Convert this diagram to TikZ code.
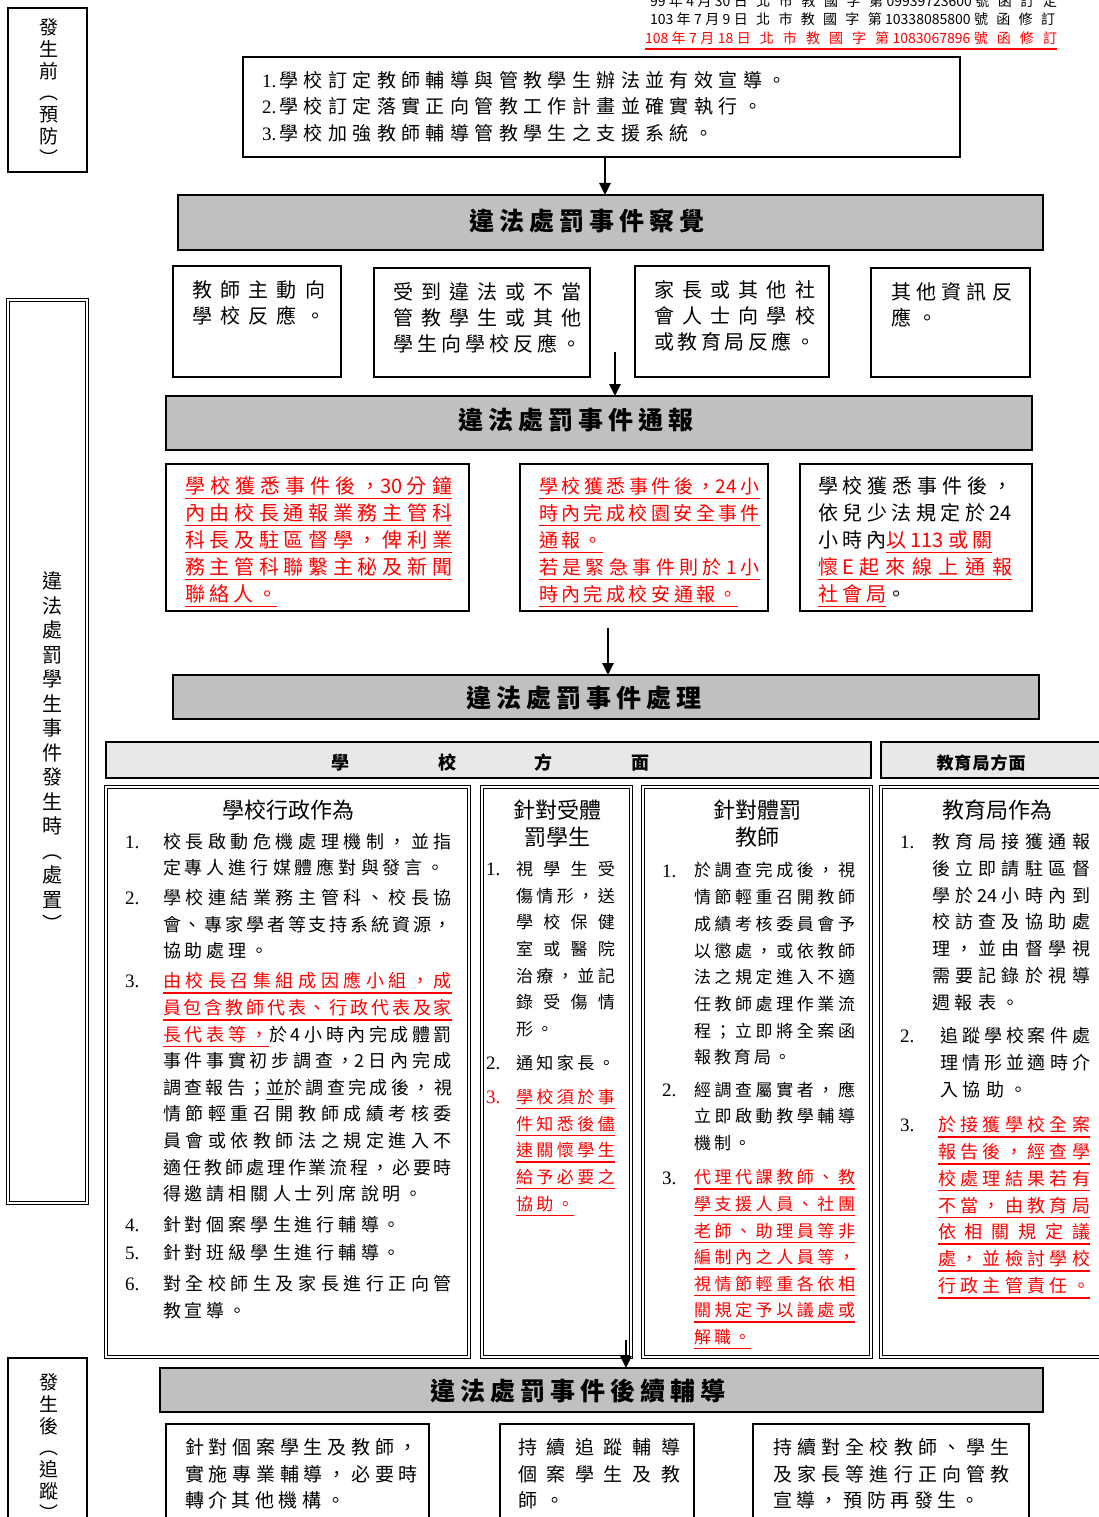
\documentclass[tikz,border=0pt]{standalone}
\usepackage{fontspec}
\setmainfont{Noto Sans CJK TC}
\newfontfamily\nm{Liberation Serif}
\usetikzlibrary{arrows.meta,fit}
\definecolor{barg}{HTML}{C0C0C0}
\definecolor{hdrg}{HTML}{E8E8E8}
\XeTeXinterchartokenstate=1
\chardef\cjkcls=7
\newcount\cc
\cc="4E00 \loop\XeTeXcharclass\cc=\cjkcls\advance\cc by 1\ifnum\cc<"A000\repeat
\cc="3000 \loop\XeTeXcharclass\cc=\cjkcls\advance\cc by 1\ifnum\cc<"3040\repeat
\cc="FF00 \loop\XeTeXcharclass\cc=\cjkcls\advance\cc by 1\ifnum\cc<"FF60\repeat
\newskip\cjkgap
\XeTeXinterchartoks\cjkcls\cjkcls={\hskip\cjkgap\relax}
\newdimen\lw
\newcommand\jw[1]{\hbox to \lw{#1}}
\newcommand\ulx[1]{\leavevmode\setbox0=\hbox{#1}\rlap{\vrule height -4.5pt depth 6pt width \wd0}\box0}
\newcommand\ru[1]{{\color{red}\ulx{#1}}}
\tikzset{
  tb/.style n args={4}{inner sep=0pt, outer sep=0pt, anchor=north west, align=left,
    font={\fontsize{#1}{#2}\selectfont\cjkgap=#3pt plus 40pt minus 6pt\relax\lw=#4pt\relax}},
  box/.style={draw, line width=1.6pt, inner sep=0pt, outer sep=0pt},
  dbox/.style={draw, double, double distance=1.3pt, line width=0.9pt, inner sep=0pt, outer sep=0pt},
  bar/.style={draw, line width=1.8pt, fill=barg, inner sep=0pt, outer sep=0pt},
  hbar/.style={draw, line width=1.6pt, fill=hdrg, inner sep=0pt, outer sep=0pt},
  ttl/.style={inner sep=0pt, font={\fontsize{25}{30}\selectfont\bfseries\cjkgap=5pt\relax}},
  ctl/.style={inner sep=0pt, align=center, font={\fontsize{22}{27}\selectfont\cjkgap=0pt\relax}},
  num/.style={inner sep=0pt, anchor=west, font={\nm\fontsize{19}{19}\selectfont}},
  vlab/.style={inner sep=0pt, align=center, font={\fontsize{19}{21.8}\selectfont}},
  arr/.style={line width=2.6pt, -{Triangle[length=12pt,width=11pt]}},
}
\begin{document}
\begin{tikzpicture}[x=1pt,y=-1pt]
\fill[white] (0,0) rectangle (1099,1517);
\useasboundingbox (0,0) rectangle (1099,1517);

% ---------- header (document numbers)
\node[tb={14}{17}{1.5}{407}, anchor=west] (h1) at (650,1) {\jw{99 年 4 月 30 日北市教國字第 09939723600 號函訂定}};
\node[tb={14}{17}{1.5}{405}, anchor=west] (h2) at (650,19) {\jw{103 年 7 月 9 日北市教國字第 10338085800 號函修訂}};
\node[tb={14}{17}{1.5}{412}, anchor=west] (h3) at (645,41) {\ru{\jw{108 年 7 月 18 日北市教國字第 1083067896 號函修訂}}};

% ---------- left stage labels
\node[box, fit={(8,8)(87,172)}] (v1) {};
\node[vlab] (v1t) at (49,92) {發\\生\\前\\︵\\預\\防\\︶};
\node[dbox, fit={(8,300)(87,1203)}] (v2) {};
\node[vlab, font={\fontsize{20}{24.5}\selectfont}] (v2t) at (52,752) {違\\法\\處\\罰\\學\\生\\事\\件\\發\\生\\時\\︵\\處\\置\\︶};
\node[box, fit={(8,1358)(87,1540)}] (v3) {};
\node[vlab] (v3t) at (49,1447) {發\\生\\後\\︵\\追\\蹤\\︶};

% ---------- prevention box
\node[box, fit={(243,57)(960,157)}] (top) {};
\node[tb={19}{26.5}{5.4}{600}] (topt) at (262,71) {{\nm 1.}\,學校訂定教師輔導與管教學生辦法並有效宣導。\\{\nm 2.}\,學校訂定落實正向管教工作計畫並確實執行。\\{\nm 3.}\,學校加強教師輔導管教學生之支援系統。};

% ---------- bar 1
\node[bar, fit={(178,195)(1043,250)}] (bar1) {};
\node[ttl] (bar1t) at (587,221) {違法處罰事件察覺};
\coordinate (x1) at (605,0);
\draw[arr] (top.south -| x1) -- (bar1.north -| x1);

\node[box, fit={(173,266)(341,377)}] (d1) {};
\node[tb={20}{26}{6.5}{133}] (d1t) at (192,280.5) {\jw{教師主動向}\\\jw{學校反應。}};
\node[box, fit={(374,268)(590,377)}] (d2) {};
\node[tb={20}{26}{6.5}{188}] (d2t) at (393,282.5) {\jw{受到違法或不當}\\\jw{管教學生或其他}\\\jw{學生向學校反應。}};
\node[box, fit={(635,266)(829,377)}] (d3) {};
\node[tb={20}{26}{6.5}{161}] (d3t) at (654,280.5) {\jw{家長或其他社}\\\jw{會人士向學校}\\\jw{或教育局反應。}};
\node[box, fit={(871,268)(1030,377)}] (d4) {};
\node[tb={20}{26}{6.5}{121}] (d4t) at (891,282.5) {\jw{其他資訊反}\\應。};

% ---------- bar 2
\node[bar, fit={(166,396)(1032,450)}] (bar2) {};
\node[ttl] (bar2t) at (576,420) {違法處罰事件通報};
\coordinate (s2) at (615,352);
\draw[arr] (s2) -- (bar2.north -| s2);

\node[box, fit={(166,464)(469,611)}] (e1) {};
\node[tb={20}{27}{4}{267}] (e1t) at (185,476.5) {\ru{\jw{學校獲悉事件後，30 分鐘}}\\\ru{\jw{內由校長通報業務主管科}}\\\ru{\jw{科長及駐區督學，俾利業}}\\\ru{\jw{務主管科聯繫主秘及新聞}}\\\ru{聯絡人。}};
\node[box, fit={(520,464)(768,611)}] (e2) {};
\node[tb={19}{27}{3.5}{221}] (e2t) at (539,477) {\ru{\jw{學校獲悉事件後，24 小}}\\\ru{\jw{時內完成校園安全事件}}\\\ru{通報。}\\\ru{\jw{若是緊急事件則於 1 小}}\\\ru{時內完成校安通報。}};
\node[box, fit={(800,464)(1032,611)}] (e3) {};
\node[tb={20}{27}{4}{194}] (e3t) at (818,476.5) {\jw{學校獲悉事件後，}\\\jw{依兒少法規定於 24}\\小時內\ru{以 113 或關}\\\ru{\jw{懷 E 起來線上通報}}\\\ru{社會局}。};

% ---------- bar 3
\node[bar, fit={(173,675)(1039,719)}] (bar3) {};
\node[ttl] (bar3t) at (584,698) {違法處罰事件處理};
\coordinate (s3) at (608,628);
\draw[arr] (s3) -- (bar3.north -| s3);

\node[hbar, fit={(106,742)(871,778)}] (hs) {};
\node[inner sep=0pt, font={\fontsize{18}{20}\selectfont\bfseries}] (hst) at (490,763) {學\hspace{89pt}校\hspace{78pt}方\hspace{79pt}面};
\node[hbar, fit={(881,742)(1110,778)}] (he) {};
\node[inner sep=0pt, font={\fontsize{17}{20}\selectfont\bfseries\cjkgap=1pt\relax}] (het) at (981,763) {教育局方面};

% ---------- column 1: school administration
\node[dbox, fit={(106,787)(469,1357)}] (c1) {};
\node[ctl] (c1h) at (288,810) {學校行政作為};
\node[num] (c1n1) at (125,842) {1.};
\node[num] (c1n2) at (125,898) {2.};
\node[num] (c1n3) at (125,981) {3.};
\node[num] (c1n4) at (125,1225) {4.};
\node[num] (c1n5) at (125,1253) {5.};
\node[num] (c1n6) at (125,1284) {6.};
\node[tb={18}{26}{4}{289}] (c1b1) at (163,833.5) {\jw{校長啟動危機處理機制，並指}\\定專人進行媒體應對與發言。};
\node[tb={18}{26.5}{4}{289}] (c1b2) at (163,889.5) {\jw{學校連結業務主管科、校長協}\\\jw{會、專家學者等支持系統資源，}\\協助處理。};
\node[tb={18}{26.6}{4}{289}] (c1b3) at (163,972.5) {\ru{\jw{由校長召集組成因應小組，成}}\\\ru{\jw{員包含教師代表、行政代表及家}}\\\jw{\ru{長代表等，}於 4 小時內完成體罰}\\\jw{事件事實初步調查，2 日內完成}\\\jw{調查報告；\ulx{並}於調查完成後，視}\\\jw{情節輕重召開教師成績考核委}\\\jw{員會或依教師法之規定進入不}\\\jw{適任教師處理作業流程，必要時}\\得邀請相關人士列席說明。};
\node[tb={18}{26}{4}{289}] (c1b4) at (163,1216.5) {針對個案學生進行輔導。};
\node[tb={18}{26}{4}{289}] (c1b5) at (163,1244.5) {針對班級學生進行輔導。};
\node[tb={18}{27}{4}{289}] (c1b6) at (163,1275.5) {\jw{對全校師生及家長進行正向管}\\教宣導。};

% ---------- column 2: students
\node[dbox, fit={(482,787)(631,1357)}] (c2) {};
\node[ctl] (c2h) at (557,823.5) {針對受體\\罰學生};
\node[num] (c2n1) at (486,869) {1.};
\node[num] (c2n2) at (486,1063) {2.};
\node[num, text=red] (c2n3) at (486,1097) {3.};
\node[tb={17}{26.7}{3.5}{99}] (c2b1) at (516,861) {\jw{視學生受}\\\jw{傷情形，送}\\\jw{學校保健}\\\jw{室或醫院}\\\jw{治療，並記}\\\jw{錄受傷情}\\形。};
\node[tb={17}{26.7}{3.5}{99}] (c2b2) at (516,1055) {通知家長。};
\node[tb={17}{26.7}{3.5}{99}] (c2b3) at (516,1089) {\ru{\jw{學校須於事}}\\\ru{\jw{件知悉後儘}}\\\ru{\jw{速關懷學生}}\\\ru{\jw{給予必要之}}\\\ru{協助。}};

% ---------- column 3: teachers
\node[dbox, fit={(643,787)(871,1357)}] (c3) {};
\node[ctl] (c3h) at (757,823.5) {針對體罰\\教師};
\node[num] (c3n1) at (662,871) {1.};
\node[num] (c3n2) at (662,1090) {2.};
\node[num] (c3n3) at (662,1178) {3.};
\node[tb={17}{26.7}{3}{161}] (c3b1) at (694,862.5) {\jw{於調查完成後，視}\\\jw{情節輕重召開教師}\\\jw{成績考核委員會予}\\\jw{以懲處，或依教師}\\\jw{法之規定進入不適}\\\jw{任教師處理作業流}\\\jw{程；立即將全案函}\\報教育局。};
\node[tb={17}{26.7}{3}{161}] (c3b2) at (694,1081.5) {\jw{經調查屬實者，應}\\\jw{立即啟動教學輔導}\\機制。};
\node[tb={17}{26.6}{3}{161}] (c3b3) at (694,1169.5) {\ru{\jw{代理代課教師、教}}\\\ru{\jw{學支援人員、社團}}\\\ru{\jw{老師、助理員等非}}\\\ru{\jw{編制內之人員等，}}\\\ru{\jw{視情節輕重各依相}}\\\ru{\jw{關規定予以議處或}}\\\ru{解職。}};

% ---------- column 4: education bureau
\node[dbox, fit={(881,787)(1110,1357)}] (c4) {};
\node[ctl] (c4h) at (997,810) {教育局作為};
\node[num] (c4n1) at (900,842) {1.};
\node[num] (c4n2) at (900,1036) {2.};
\node[num] (c4n3) at (900,1125) {3.};
\node[tb={18}{26.7}{5}{158}] (c4b1) at (932,833.5) {\jw{教育局接獲通報}\\\jw{後立即請駐區督}\\\jw{學於 24 小時內到}\\\jw{校訪查及協助處}\\\jw{理，並由督學視}\\\jw{需要記錄於視導}\\週報表。};
\node[tb={18}{26.7}{5}{150}] (c4b2) at (940,1027.5) {\jw{追蹤學校案件處}\\\jw{理情形並適時介}\\入協助。};
\node[tb={18}{26.8}{5}{152}] (c4b3) at (938,1116.5) {\ru{\jw{於接獲學校全案}}\\\ru{\jw{報告後，經查學}}\\\ru{\jw{校處理結果若有}}\\\ru{\jw{不當，由教育局}}\\\ru{\jw{依相關規定議}}\\\ru{\jw{處，並檢討學校}}\\\ru{\jw{行政主管責任。}}};

% ---------- bar 4
\node[bar, fit={(160,1368)(1043,1412)}] (bar4) {};
\node[ttl] (bar4t) at (578,1391) {違法處罰事件後續輔導};
\coordinate (s4) at (626,1340);
\draw[arr] (s4) -- (bar4.north -| s4);

\node[box, fit={(166,1424)(429,1540)}] (f1) {};
\node[tb={19}{26.5}{4.5}{233}] (f1t) at (185,1438.5) {\jw{針對個案學生及教師，}\\\jw{實施專業輔導，必要時}\\轉介其他機構。};
\node[box, fit={(500,1424)(694,1540)}] (f2) {};
\node[tb={19}{26.5}{8}{162}] (f2t) at (518,1438.5) {\jw{持續追蹤輔導}\\\jw{個案學生及教}\\師。};
\node[box, fit={(753,1424)(1029,1540)}] (f3) {};
\node[tb={19}{26.5}{4.5}{237}] (f3t) at (773,1438.5) {\jw{持續對全校教師、學生}\\\jw{及家長等進行正向管教}\\宣導，預防再發生。};
\end{tikzpicture}
\end{document}
